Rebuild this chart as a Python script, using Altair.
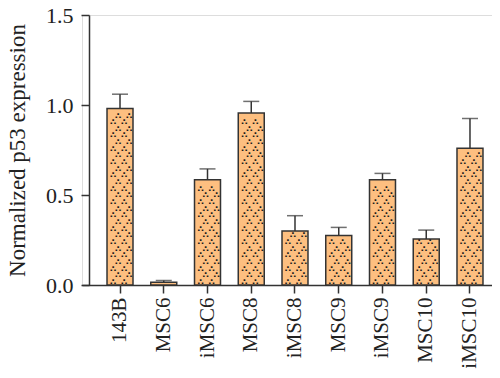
import altair as alt
import pandas as pd

categories = ["143B", "MSC6", "iMSC6", "MSC8", "iMSC8", "MSC9", "iMSC9", "MSC10", "iMSC10"]
means = [0.98, 0.015, 0.585, 0.955, 0.30, 0.275, 0.585, 0.255, 0.76]
err_top = [1.06, 0.025, 0.645, 1.02, 0.385, 0.32, 0.62, 0.305, 0.925]

df = pd.DataFrame({"cat": categories, "mean": means, "err": err_top})

# decorative hatch pattern rows, derived from bar heights
rows = []
step = 0.037
for c, m in zip(categories, means):
    k = 0
    while (k + 0.7) * step < m - 0.005:
        rows.append({"cat": c, "py": (k + 0.45) * step, "row": k % 2})
        k += 1
pat = pd.DataFrame(rows, columns=["cat", "py", "row"])

FONT = "Liberation Serif"
xscale = alt.Scale(domain=categories, paddingInner=0.406, paddingOuter=0.389, align=0.735)
yscale = alt.Scale(domain=[0, 1.5], nice=False)

x_enc = alt.X("cat:N", scale=xscale, sort=categories,
              axis=alt.Axis(title=None, labelAngle=-90, labelFont=FONT, labelFontSize=21,
                            labelColor="#222", labelPadding=4, tickSize=8, tickColor="#333",
                            tickWidth=1.5, domainColor="#333", domainWidth=1.5,
                            labelBaseline="middle", labelAlign="right"))
y_enc = alt.Y("mean:Q", scale=yscale,
              axis=alt.Axis(title="Normalized p53 expression", values=[0, 0.5, 1.0, 1.5],
                            format=".1f", labelFont=FONT, labelFontSize=22, labelColor="#222",
                            labelPadding=8, tickSize=8, tickColor="#333", tickWidth=1.5,
                            domainColor="#333", domainWidth=1.5, grid=False, offset=-7,
                            titleFont=FONT, titleFontSize=23, titleFontWeight="normal",
                            titleColor="#222", titleX=-72, titleBaseline="middle"))

base = alt.Chart(df)

err_rule = base.mark_rule(color="#333", strokeWidth=1.5).encode(
    x=alt.X("cat:N", scale=xscale, sort=categories),
    y=alt.Y("mean:Q", scale=yscale), y2="err:Q")
err_cap = base.mark_tick(color="#333", thickness=1.5, size=16).encode(
    x=alt.X("cat:N", scale=xscale, sort=categories),
    y=alt.Y("err:Q", scale=yscale))

bars = base.mark_bar(fill="#FDBF80", stroke="#333", strokeWidth=1.5).encode(x=x_enc, y=y_enc)

pat_layers = []
for r, offs in [(0, [-7, 4]), (1, [-2, 9])]:
    for dx in offs:
        pat_layers.append(
            alt.Chart(pat).transform_filter(alt.datum.row == r).mark_text(
                text="∴", font="DejaVu Sans", fontSize=9, fontWeight="bold",
                color="#1a1a1a", dx=dx, baseline="middle").encode(
                x=alt.X("cat:N", scale=xscale, sort=categories),
                y=alt.Y("py:Q", scale=yscale)))

chart = alt.layer(err_rule, err_cap, bars, *pat_layers).properties(
    width=410, height=270,
    padding={"left": 74, "top": 7, "right": 0, "bottom": 85},
    autosize=alt.AutoSizeParams(type="none"),
).configure_view(strokeWidth=0, stroke="transparent").configure_axis(grid=False).configure(background="white")

chart.save("out.html", embed_options={"renderer": "svg", "actions": False})
